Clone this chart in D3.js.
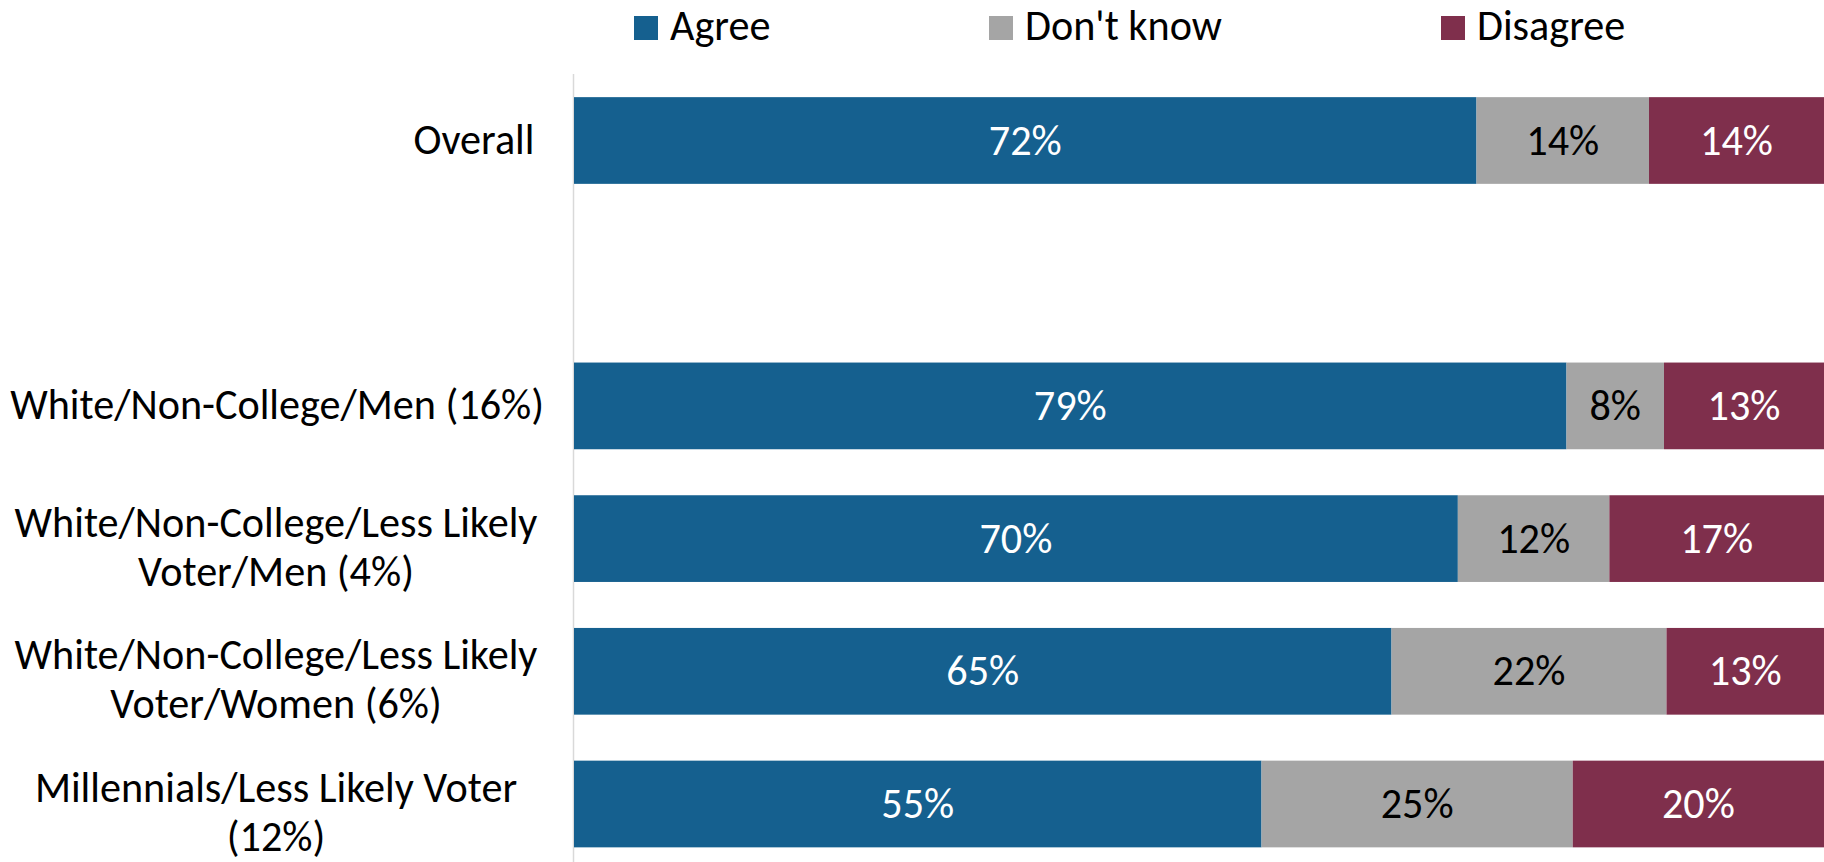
<!DOCTYPE html>
<html>
<head>
<meta charset="utf-8">
<script src="https://cdn.jsdelivr.net/npm/d3@7"></script>
<style>
  html, body { margin: 0; padding: 0; background: #fff; }
  svg { display: block; }
  text { font-family: Carlito, Calibri, Lato, "Open Sans", sans-serif; }
</style>
</head>
<body>
<svg id="chart" width="1824" height="862"></svg>
<script>
// ---- data (estimated shares; labels show rounded values) ----
const categories = [
  "Overall\u00A0",
  "",
  "White/Non-College/Men (16%)",
  "White/Non-College/Less Likely\nVoter/Men (4%)",
  "White/Non-College/Less Likely\nVoter/Women (6%)",
  "Millennials/Less Likely Voter\n(12%)"
];
const seriesNames = ["Agree", "Don't know", "Disagree"];
const agree    = [72.2, null, 79.4, 70, 65.4, 55.0];
const dontKnow = [13.8, null,  7.8, 12, 22.0, 24.9];
const disagree = [14.0, null, 12.8, 17, 12.6, 20.1];
const colors = ["#15608F", "#A5A5A5", "#7F2F4C"];
const labelColors = ["#ffffff", "#000000", "#ffffff"];

// ---- layout ----
const W = 1824, H = 862;
const x0 = 574, x1 = 1824;
const svg = d3.select("#chart");

const x = d3.scaleLinear().domain([0, 1]).range([x0, x1]);
const pad = 0.3466;
const y = d3.scaleBand().domain(d3.range(categories.length))
  .range([74.15, 870.35]).paddingInner(pad).paddingOuter(pad / 2);

// font size fit
const probe = svg.append("text").attr("font-size", 100).text("White/Non-College/Men (16%)");
const pw = probe.node().getComputedTextLength();
probe.remove();
const fs = Math.min(44, 100 * 534 / pw);

// axis line
svg.append("line")
  .attr("x1", x0 - 0.5).attr("x2", x0 - 0.5)
  .attr("y1", 74).attr("y2", H)
  .attr("stroke", "#D9D9D9").attr("stroke-width", 1.5);

// 100% stacked data
const rows = categories.map((c, i) => ({ i, Agree: agree[i], "Don't know": dontKnow[i], Disagree: disagree[i] }))
  .filter(d => d.Agree != null);
const stack = d3.stack().keys(seriesNames).offset(d3.stackOffsetExpand)(rows);

stack.forEach((layer, k) => {
  const key = layer.key;
  const g = svg.append("g");
  g.selectAll("rect").data(layer).enter().append("rect")
    .attr("x", d => x(d[0]))
    .attr("width", d => x(d[1]) - x(d[0]))
    .attr("y", d => y(d.data.i))
    .attr("height", y.bandwidth())
    .attr("fill", colors[k]);
  g.selectAll("text").data(layer).enter().append("text")
    .attr("x", d => (x(d[0]) + x(d[1])) / 2)
    .attr("y", d => y(d.data.i) + y.bandwidth() / 2 + 14)
    .attr("text-anchor", "middle")
    .attr("font-size", fs)
    .attr("fill", labelColors[k])
    .text(d => Math.round(d.data[key]) + "%");
});

// category labels
const labelRight = 544, wrapCenter = 276;
categories.forEach((c, i) => {
  if (!c) return;
  const lines = c.split("\n");
  const cy = y(i) + y.bandwidth() / 2;
  const t = svg.append("text").attr("font-size", fs).attr("fill", "#000");
  const spans = lines.map(l => t.append("tspan").text(l));
  const widths = spans.map(s => s.node().getComputedTextLength());
  const maxW = d3.max(widths);
  const cx = lines.length > 1 ? wrapCenter : labelRight - maxW / 2;
  const firstBase = lines.length === 1 ? cy + 13 : cy - 2;
  spans.forEach((s, j) => {
    s.attr("x", cx).attr("y", firstBase + j * 49).attr("text-anchor", "middle");
  });
});

// legend
const legendX = [634, 989, 1441];
seriesNames.forEach((n, k) => {
  svg.append("rect").attr("x", legendX[k]).attr("y", 16).attr("width", 24).attr("height", 24).attr("fill", colors[k]);
  svg.append("text").attr("x", legendX[k] + 36).attr("y", 40).attr("font-size", fs).attr("fill", "#000").text(n);
});
</script>
</body>
</html>
